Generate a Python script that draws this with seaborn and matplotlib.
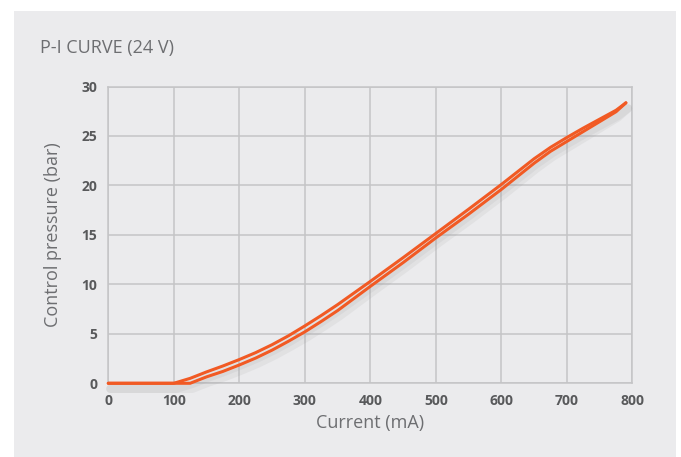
import numpy as np
import pandas as pd
import seaborn as sns
import matplotlib.pyplot as plt
import matplotlib.patheffects as pe
from matplotlib.patches import Rectangle

# P-I curve, rising and falling branches (hysteresis)
current_up = [0, 100, 110, 125, 150, 175, 200, 225, 250, 275, 300, 325, 350, 400, 450, 500,
              550, 600, 650, 675, 700, 725, 750, 775, 790]
pressure_up = [0, 0, 0.2, 0.5, 1.15, 1.75, 2.4, 3.1, 3.9, 4.8, 5.8, 6.85, 7.95, 10.3, 12.7, 15.15,
               17.6, 20.1, 22.7, 23.85, 24.85, 25.8, 26.7, 27.6, 28.35]
current_down = [0, 100, 125, 150, 175, 200, 225, 250, 275, 300, 325, 350, 400, 450, 500,
                550, 600, 650, 675, 700, 725, 750, 775, 790]
pressure_down = [0, 0, 0, 0.65, 1.2, 1.85, 2.55, 3.35, 4.25, 5.2, 6.25, 7.35, 9.8, 12.2, 14.7,
                 17.1, 19.6, 22.25, 23.45, 24.45, 25.45, 26.45, 27.45, 28.35]

x_ticks = [0, 100, 200, 300, 400, 500, 600, 700, 800]
y_ticks = [0, 5, 10, 15, 20, 25, 30]

df = pd.concat([
    pd.DataFrame({"current": current_up, "pressure": pressure_up, "branch": "up"}),
    pd.DataFrame({"current": current_down, "pressure": pressure_down, "branch": "down"}),
])

sns.set_style("white")
plt.rcParams["font.family"] = ["Open Sans", "DejaVu Sans"]

panel = "#ebebed"
fig = plt.figure(figsize=(6.81, 4.57), dpi=100, facecolor="white")
fig.patches.append(Rectangle((14 / 681, 0), 662 / 681, 446 / 457, transform=fig.transFigure,
                             facecolor=panel, edgecolor="none", zorder=-10))
ax = fig.add_axes([0.159, 0.1613, 0.7697, 0.6494])
ax.set_facecolor(panel)

sns.lineplot(data=df, x="current", y="pressure", hue="branch", palette=["#f15a24", "#f15a24"],
             linewidth=2.2, legend=False, ax=ax, sort=False, clip_on=False, zorder=5,
             estimator=None)
for line in ax.get_lines():
    line.set_path_effects([pe.SimpleLineShadow(offset=(1.5, -4), shadow_color="#9a9a9a", alpha=0.12, linewidth=6),
                           pe.Normal()])
    line.set_solid_capstyle("round")
    line.set_solid_joinstyle("round")

ax.set_xlim(0, 800)
ax.set_ylim(0, 30)
ax.set_xticks(x_ticks)
ax.set_yticks(y_ticks)
ax.grid(True, color="#c4c4c6", linewidth=1.1)
for s in ax.spines.values():
    s.set_color("#c4c4c6")
    s.set_linewidth(1.1)
ax.tick_params(length=0, pad=8, labelsize=10, labelcolor="#58595b")
for lbl in ax.get_xticklabels() + ax.get_yticklabels():
    lbl.set_fontweight("bold")

ax.set_xlabel("Current (mA)", fontsize=13, color="#6d6e71", labelpad=4)
ax.set_ylabel("Control pressure (bar)", fontsize=13, color="#6d6e71", labelpad=14)
fig.text(40 / 681, 1 - 48 / 457, "P-I CURVE (24 V)", fontsize=13, color="#6d6e71", va="center", ha="left")

fig.savefig("out.png", dpi=100, facecolor="white")
